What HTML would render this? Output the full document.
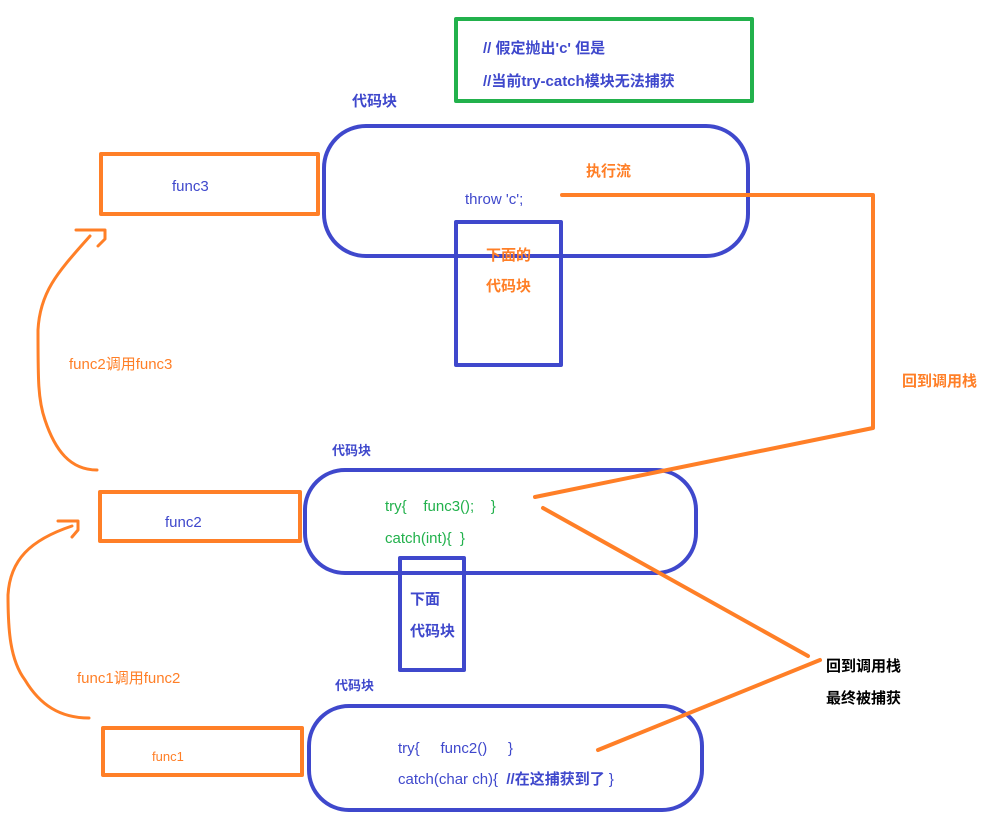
<!DOCTYPE html>
<html><head><meta charset="utf-8"><style>
html,body{margin:0;padding:0;background:#fff;}
svg{display:block;}
text{font-family:"Liberation Sans","Noto Sans CJK SC",sans-serif;}
</style></head><body>
<svg width="1006" height="822" viewBox="0 0 1006 822" xmlns="http://www.w3.org/2000/svg">
<g fill="none" stroke-linecap="round" stroke-linejoin="round">
<rect x="456" y="19" width="296" height="82" stroke="#22b14c" stroke-width="4"/>
<rect x="324" y="126" width="424" height="130" rx="42" stroke="#3f48cc" stroke-width="4"/>
<rect x="101" y="154" width="217" height="60" stroke="#ff7f27" stroke-width="4"/>
<rect x="456" y="222" width="105" height="143" stroke="#3f48cc" stroke-width="4"/>
<rect x="305" y="470" width="391" height="103" rx="40" stroke="#3f48cc" stroke-width="4"/>
<rect x="100" y="492" width="200" height="49" stroke="#ff7f27" stroke-width="4"/>
<rect x="400" y="558" width="64" height="112" stroke="#3f48cc" stroke-width="4"/>
<rect x="309" y="706" width="393" height="104" rx="40" stroke="#3f48cc" stroke-width="4"/>
<rect x="103" y="728" width="199" height="47" stroke="#ff7f27" stroke-width="4"/>
<polyline points="562,195 873,195 873,428 535,497" stroke="#ff7f27" stroke-width="4"/>
<line x1="543" y1="508" x2="808" y2="656" stroke="#ff7f27" stroke-width="4"/>
<line x1="598" y1="750" x2="820" y2="660" stroke="#ff7f27" stroke-width="4"/>
<path d="M97,470 C70,470 55,450 45,420 C38,400 38,380 38,330 C40,290 60,270 90,236" stroke="#ff7f27" stroke-width="3"/>
<polyline points="76,230 105,230 105,239 98,246" stroke="#ff7f27" stroke-width="3"/>
<path d="M89,718 C60,718 40,705 25,680 C10,660 8,630 8,595 C10,560 30,540 72,526" stroke="#ff7f27" stroke-width="3"/>
<polyline points="58,521 78,521 78,530 72,537" stroke="#ff7f27" stroke-width="3"/>
</g>
<g font-size="15" font-weight="bold" fill="#3f48cc">
<text x="483" y="53">// 假定抛出'c' 但是</text>
<text x="483" y="86">//当前try-catch模块无法捕获</text>
<text x="352" y="106">代码块</text>
<text x="332" y="455" font-size="13">代码块</text>
<text x="335" y="690" font-size="13">代码块</text>
<text x="410" y="604">下面</text>
<text x="410" y="636">代码块</text>
</g>
<g font-size="15" fill="#3f48cc">
<text x="172" y="191">func3</text>
<text x="465" y="204">throw 'c';</text>
<text x="165" y="527">func2</text>
<text x="398" y="753" xml:space="preserve">try{     func2()     }</text>
<text x="398" y="784" xml:space="preserve">catch(char ch){  <tspan font-weight="bold">//在这捕获到了</tspan> }</text>
</g>
<g font-size="15" fill="#22b14c">
<text x="385" y="511" xml:space="preserve">try{    func3();    }</text>
<text x="385" y="543" xml:space="preserve">catch(int){  }</text>
</g>
<g font-size="15" font-weight="bold" fill="#ff7f27">
<text x="586" y="176">执行流</text>
<text x="486" y="260">下面的</text>
<text x="486" y="291">代码块</text>
<text x="902" y="386">回到调用栈</text>
</g>
<g font-size="15" fill="#ff7f27">
<text x="69" y="369">func2调用func3</text>
<text x="77" y="683">func1调用func2</text>
<text x="152" y="761" font-size="13">func1</text>
</g>
<g font-size="15" font-weight="bold" fill="#000">
<text x="826" y="671">回到调用栈</text>
<text x="826" y="703">最终被捕获</text>
</g>
</svg>
</body></html>
